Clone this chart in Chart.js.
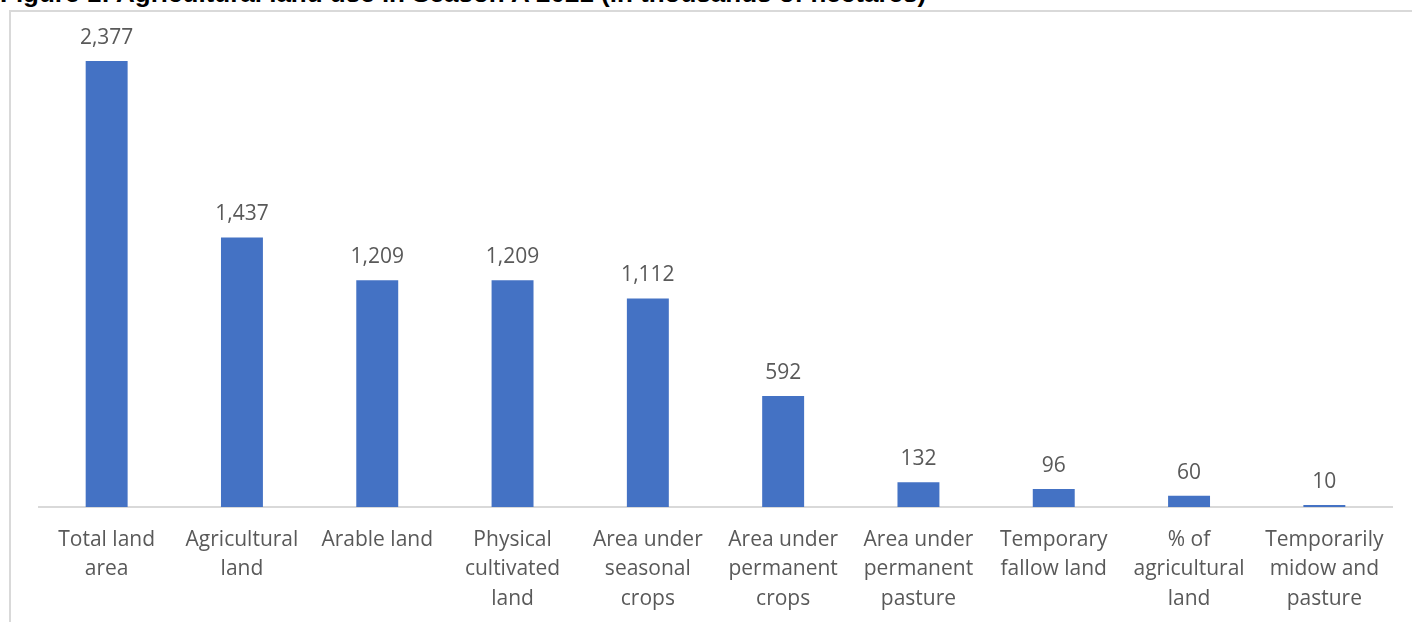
<!DOCTYPE html>
<html lang="en">
<head>
<meta charset="UTF-8">
<title>Agricultural land use</title>
<script src="https://cdn.jsdelivr.net/npm/chart.js"></script>
<style>
    body { margin: 0; background: #fff; overflow: hidden; }
    .page-title {
        position: absolute; left: 0; top: -20px;
        font-family: "Liberation Sans", Arial, sans-serif;
        font-weight: bold; font-size: 26px; line-height: 26px;
        white-space: nowrap; color: #000;
    }
    .frame {
        position: absolute; left: 9px; top: 10px; width: 1420px; height: 640px;
        border-left: 2px solid #d9d9d9; border-top: 2px solid #d9d9d9;
    }
    .chart-box { position: absolute; left: 0; top: 0; width: 1412px; height: 622px; }
</style>
</head>
<body>
<div class="page-title">Figure 1: Agricultural land use in Season A 2021 (in thousands of hectares)</div>
<div class="frame"></div>
<div class="chart-box"><canvas id="landChart"></canvas></div>
<script>
    const categories = [
        ['Total land', 'area'],
        ['Agricultural', 'land'],
        'Arable land',
        ['Physical', 'cultivated', 'land'],
        ['Area under', 'seasonal', 'crops'],
        ['Area under', 'permanent', 'crops'],
        ['Area under', 'permanent', 'pasture'],
        ['Temporary', 'fallow land'],
        ['% of', 'agricultural', 'land'],
        ['Temporarily', 'midow and', 'pasture']
    ];
    const hectares = [2377, 1437, 1209, 1209, 1112, 592, 132, 96, 60, 10];

    const labelFont = '"Open Sans", sans-serif';

    // value labels above each bar
    const barLabels = {
        id: 'barLabels',
        afterDatasetsDraw(chart) {
            const ctx = chart.ctx;
            const meta = chart.getDatasetMeta(0);
            ctx.save();
            ctx.font = '21px ' + labelFont;
            ctx.fillStyle = '#595959';
            ctx.textAlign = 'center';
            ctx.textBaseline = 'middle';
            meta.data.forEach((bar, i) => {
                ctx.fillText(hectares[i].toLocaleString('en-US'), bar.x, bar.y - 23);
            });
            ctx.restore();
        }
    };

    new Chart(document.getElementById('landChart').getContext('2d'), {
        type: 'bar',
        data: {
            labels: categories,
            datasets: [{
                data: hectares,
                backgroundColor: '#4472c4',
                categoryPercentage: 1,
                barPercentage: 0.31
            }]
        },
        options: {
            responsive: true,
            maintainAspectRatio: false,
            animation: false,
            layout: { padding: { left: 39, right: 20, top: 38, bottom: 0 } },
            plugins: { legend: { display: false }, tooltip: { enabled: false } },
            scales: {
                x: {
                    grid: { display: false, drawTicks: false },
                    border: { display: true, color: '#d9d9d9', width: 2 },
                    ticks: {
                        color: '#595959',
                        font: { family: labelFont, size: 21, lineHeight: 1.41 },
                        padding: 18,
                        maxRotation: 0,
                        autoSkip: false
                    },
                    afterFit(scale) { scale.height = 115; }
                },
                y: {
                    display: false,
                    min: 0,
                    max: 2500
                }
            }
        },
        plugins: [barLabels]
    });
</script>
</body>
</html>
